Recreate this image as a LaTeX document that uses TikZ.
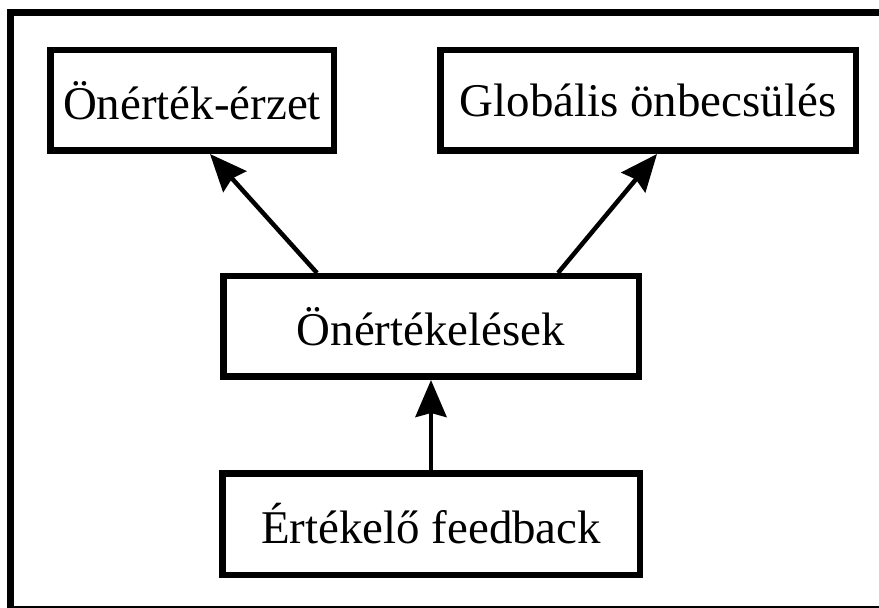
\documentclass[tikz,border=0pt]{standalone}
\usepackage{fontspec}
\setmainfont{Liberation Serif}
\usetikzlibrary{positioning,arrows.meta}

\begin{document}
\begin{tikzpicture}[node distance=4.52cm,on grid,
  box/.style={draw,line width=0.13cm,minimum height=2.01cm,inner sep=0pt,font=\fontsize{26.7}{32}\selectfont},
  link/.style={line width=0.09cm,-{Stealth[length=0.74cm,width=0.62cm,inset=0.08cm]}}]
  \useasboundingbox (0,0) rectangle (17.58,-12.16);
  % frame
  \draw[line width=0.14cm] (0.21,-12.16) -- (0.21,-0.25) -- (17.58,-0.25);
  \draw[line width=0.04cm] (0.21,-12.14) -- (17.58,-12.14);
  % boxes
  \node[box,minimum width=8.31cm] (eval) at (8.62,-6.53) {Önértékelések};
  \node[box,minimum width=5.67cm] (worth)[above left=4.52cm and 4.78cm of eval] {Önérték-érzet};
  \node[box,minimum width=8.31cm] (global)[above right=4.52cm and 4.34cm of eval] {Globális önbecsülés};
  \node[box,minimum width=8.35cm,minimum height=2.03cm] (feedback)[below=3.95cm of eval] {Értékelő feedback};
  % arrows
  \draw[link] ([xshift=-2.28cm]eval.north) -- ([xshift=0.36cm]worth.south);
  \draw[link] ([xshift=2.54cm]eval.north) -- ([xshift=0.18cm]global.south);
  \draw[link] (feedback.north) -- (feedback.north |- eval.south);
\end{tikzpicture}
\end{document}
